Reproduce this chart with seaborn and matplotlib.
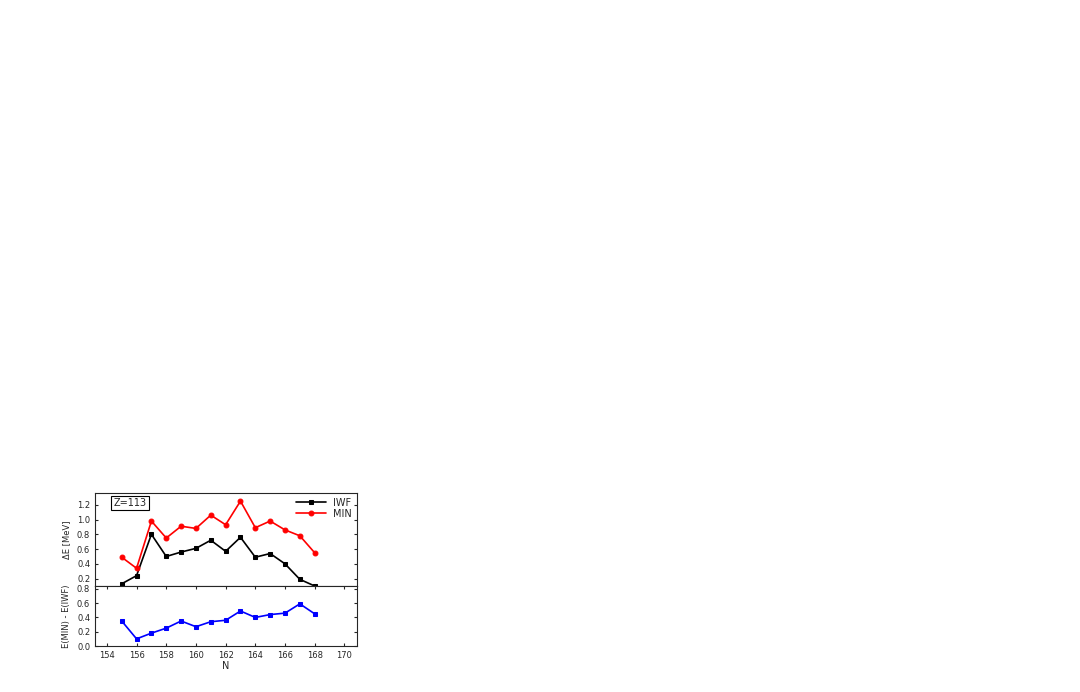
import matplotlib
matplotlib.use("Agg")
import matplotlib.pyplot as plt
import seaborn as sns
import pandas as pd

N = [155,156,157,158,159,160,161,162,163,164,165,166,167,168]
iwf = [0.13,0.24,0.80,0.50,0.56,0.61,0.72,0.57,0.76,0.49,0.54,0.40,0.19,0.10]
mn = [0.49,0.34,0.98,0.75,0.91,0.88,1.06,0.93,1.25,0.89,0.98,0.86,0.78,0.55]
diff = [0.35,0.10,0.18,0.25,0.35,0.27,0.34,0.36,0.49,0.40,0.44,0.46,0.59,0.45]

sns.set_style("ticks")
plt.rcParams['font.family'] = ['DejaVu Sans']
fig = plt.figure(figsize=(10.8, 6.92), dpi=100)
W, H = 1080, 692
ax1 = fig.add_axes([95/W, 1-586/H, 262/W, 93/H])
ax2 = fig.add_axes([95/W, 1-646/H, 262/W, 60/H], sharex=ax1)

df = pd.DataFrame({"N": N, "IWF": iwf, "MIN": mn, "d": diff})
sns.lineplot(data=df, x="N", y="IWF", ax=ax1, color="black", marker="s", markersize=3.5, markeredgecolor="black", lw=1.2, label="IWF")
sns.lineplot(data=df, x="N", y="MIN", ax=ax1, color="red", marker="o", markersize=3.5, markeredgecolor="red", lw=1.2, label="MIN")
sns.lineplot(data=df, x="N", y="d", ax=ax2, color="blue", marker="s", markersize=3.5, markeredgecolor="blue", lw=1.2)

ax1.set_xlim(153.2, 170.85)
ax1.set_ylim(0.10, 1.36)
ax1.set_yticks([0.2,0.4,0.6,0.8,1.0,1.2])
ax2.set_ylim(0.0, 0.84)
ax2.set_yticks([0.0,0.2,0.4,0.6,0.8])
ax2.set_xticks(range(154, 171, 2))
plt.setp(ax1.get_xticklabels(), visible=False)
for ax in (ax1, ax2):
    ax.tick_params(labelsize=6, direction="in", length=2, top=True, right=True)
    for s in ax.spines.values():
        s.set_linewidth(0.8)
ax1.tick_params(axis='x', length=0)
ax1.set_xlabel("")
ax1.set_ylabel("ΔE [MeV]", fontsize=6)
ax2.set_ylabel("E(MIN) - E(IWF)", fontsize=6)
ax2.set_xlabel("N", fontsize=7, labelpad=1)
ax1.legend(loc="upper right", fontsize=7, frameon=False, handlelength=3, borderaxespad=0.1, labelspacing=0.1)
ax1.text(0.07, 0.86, "Z=113", transform=ax1.transAxes, fontsize=7,
         bbox=dict(boxstyle="square,pad=0.25", fc="white", ec="black", lw=0.8))
fig.savefig("out.png", dpi=100)
